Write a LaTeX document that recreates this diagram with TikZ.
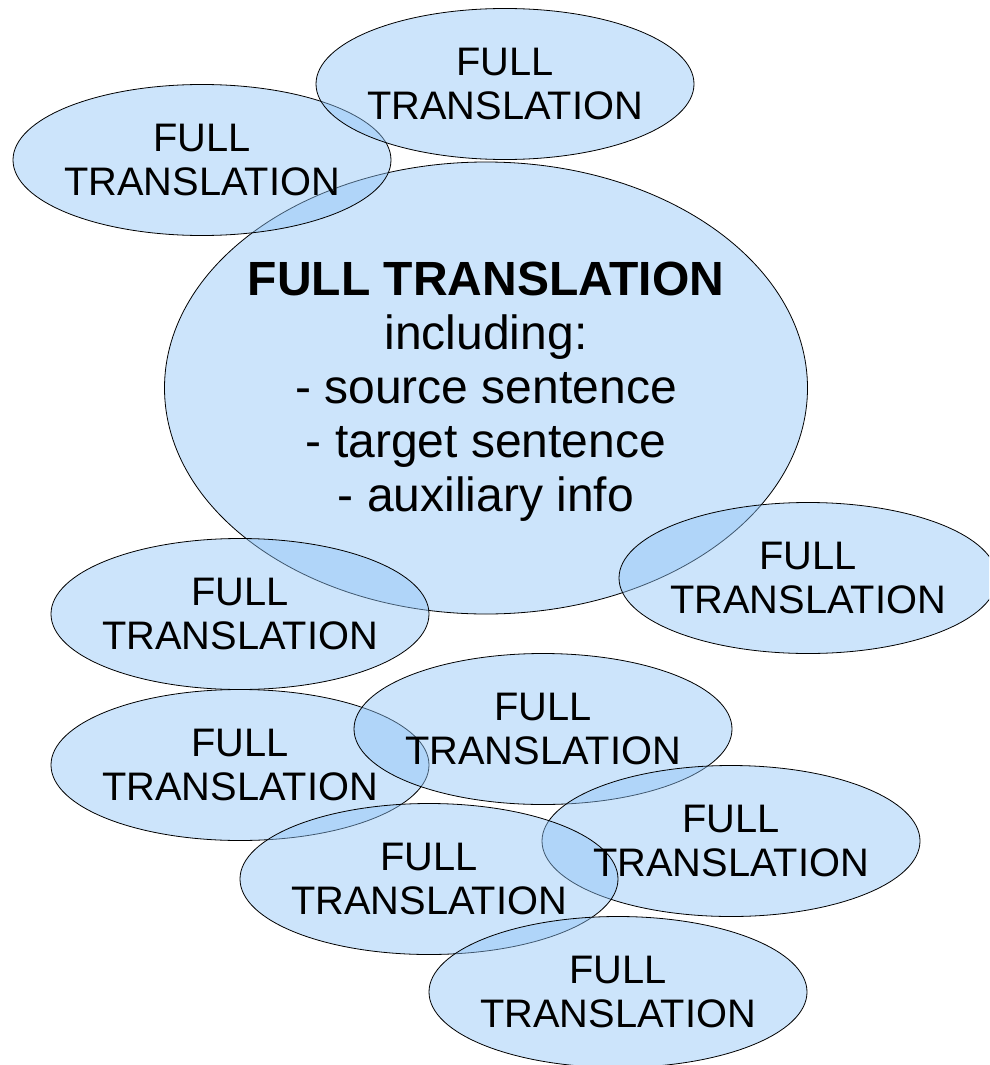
\documentclass[tikz,border=0pt]{standalone}
\usepackage{fontspec}
\setmainfont{Liberation Sans}
\usetikzlibrary{shapes.geometric}
\definecolor{blobfill}{RGB}{142,195,246}
\tikzset{
  blob/.style={ellipse, draw=black, line width=0.8pt, fill=blobfill, fill opacity=0.45, draw opacity=1,
    inner sep=0pt, minimum width=378pt, minimum height=151pt},
  bigblob/.style={blob, minimum width=643pt, minimum height=452pt},
  ftext/.style={align=center, font=\fontsize{39.8}{44}\selectfont, text=black, inner sep=0pt},
  bigtext/.style={align=center, font=\fontsize{48}{54}\selectfont, text=black, inner sep=0pt}
}
\begin{document}
\begin{tikzpicture}[x=1pt,y=-1pt]
\useasboundingbox (0,0) rectangle (989,1065);
\clip (0,0) rectangle (989,1065);
% ellipses
\node[bigblob] (e3) at (486,388) {};
\node[blob] (e2) at (202,160) {};
\node[blob] (e1) at (505,84) {};
\node[blob] (e4) at (808,578) {};
\node[blob] (e5) at (240,614) {};
\node[blob] (e6) at (240,765) {};
\node[blob] (e7) at (543,729) {};
\node[blob] (e8) at (731,841) {};
\node[blob] (e9) at (429,879) {};
\node[blob] (e10) at (618,992) {};
% texts
\node[bigtext] (t3) at (486,392) {{\bfseries FULL TRANSLATION}\\including:\\- source sentence\\- target sentence\\- auxiliary info};
\node[ftext] (t1) at (e1.center) {FULL\\TRANSLATION};
\node[ftext] (t2) at (e2.center) {FULL\\TRANSLATION};
\node[ftext] (t4) at (e4.center) {FULL\\TRANSLATION};
\node[ftext] (t5) at (e5.center) {FULL\\TRANSLATION};
\node[ftext] (t6) at (e6.center) {FULL\\TRANSLATION};
\node[ftext] (t7) at (e7.center) {FULL\\TRANSLATION};
\node[ftext] (t8) at (e8.center) {FULL\\TRANSLATION};
\node[ftext] (t9) at (e9.center) {FULL\\TRANSLATION};
\node[ftext] (t10) at (e10.center) {FULL\\TRANSLATION};
\end{tikzpicture}
\end{document}
